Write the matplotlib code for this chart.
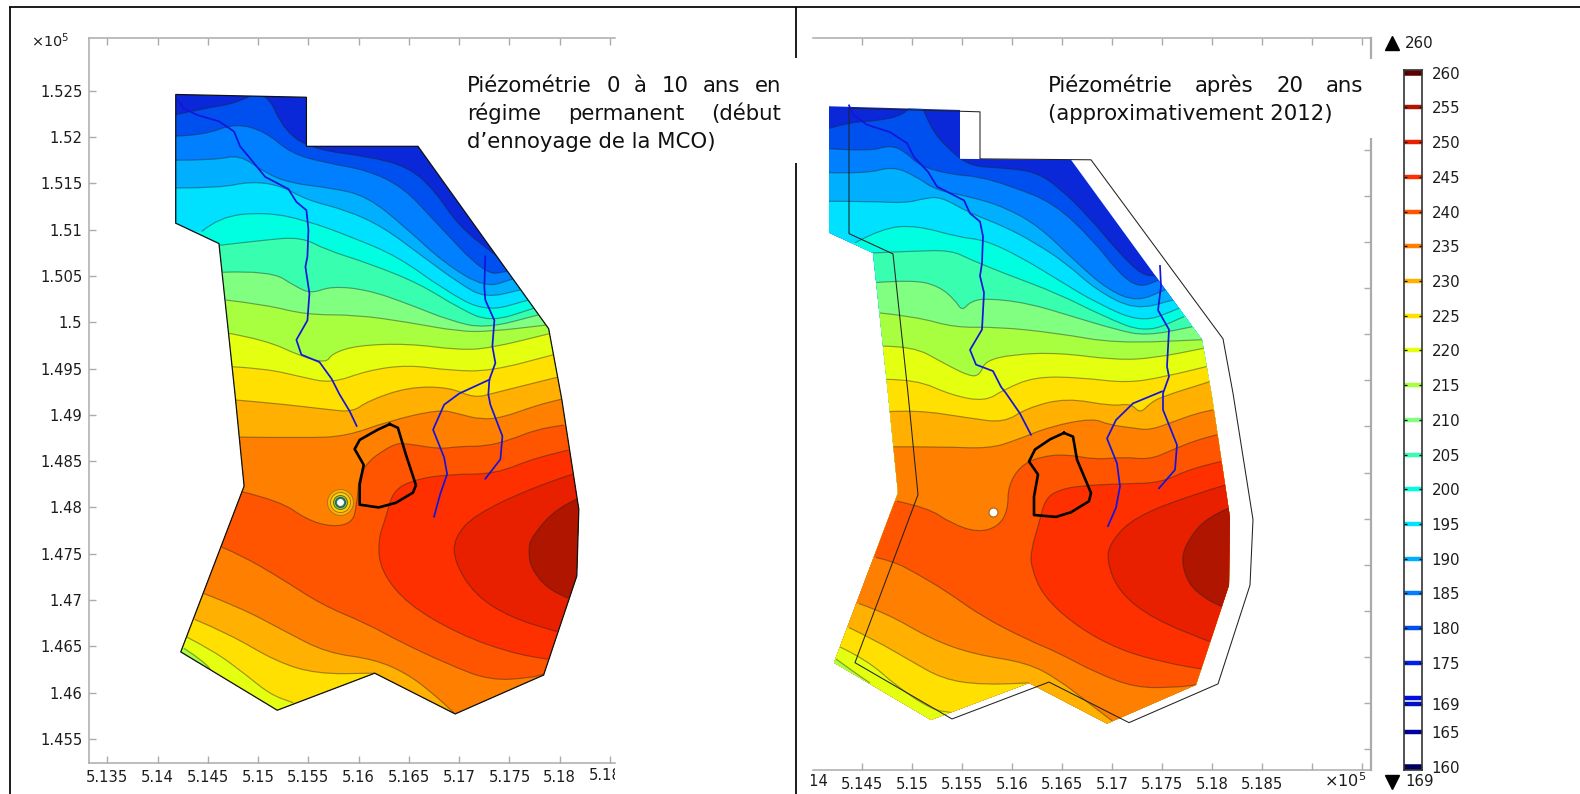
import matplotlib
matplotlib.use("Agg")
import matplotlib.pyplot as plt
from matplotlib.patches import Polygon, Rectangle, PathPatch
from matplotlib.path import Path
from matplotlib.transforms import Bbox

W, H = 1580, 794
plt.rcParams['font.family'] = ['DejaVu Sans']

# ---- colour scale -------------------------------------------------
levels = [160, 165, 169, 170, 175, 180, 185, 190, 195, 200, 205, 210, 215,
          220, 225, 230, 235, 240, 245, 250, 255, 260]
level_colors = ['#000060', '#0000a0', '#0010c8', '#0010d8', '#0020f0', '#0050f0', '#0080ff',
                '#00b0ff', '#00e0ff', '#00ffe0', '#38ffb0', '#80ff80', '#a8ff40',
                '#e4ff10', '#ffe000', '#ffb000', '#ff8000', '#ff5500', '#ff3000',
                '#e82000', '#b01500', '#600000']
cbar_labels = [160, 165, 169, 175, 180, 185, 190, 195, 200, 205, 210, 215, 220,
               225, 230, 235, 240, 245, 250, 255, 260]
base_color = '#0a28d8'

# ---- left panel: domain --------------------------------------------
dom1_x = [5.1418, 5.1548, 5.1548, 5.1659, 5.1789, 5.1802, 5.1819, 5.1817, 5.1784, 5.1696,
          5.1616, 5.1519, 5.1423, 5.1486, 5.1477, 5.1461, 5.1418]
dom1_y = [1.5246, 1.5243, 1.5190, 1.5190, 1.4993, 1.4917, 1.4798, 1.4726, 1.4619, 1.4577,
          1.4621, 1.4581, 1.4644, 1.4823, 1.4922, 1.5085, 1.5107]

# left panel: isolines, north side
a1x = [5.1418, 5.1446, 5.1477, 5.1507, 5.1527, 5.1558, 5.1609, 5.1649, 5.1675, 5.1700, 5.1738]
a1y = [1.5224, 1.5231, 1.5236, 1.5252, 1.5204, 1.5186, 1.5179, 1.5168, 1.5143, 1.5103, 1.5071]
b1x = [5.1418, 5.1446, 5.1477, 5.1507, 5.1533, 5.1568, 5.1609, 5.1644, 5.1675, 5.1726, 5.1748]
b1y = [1.5201, 1.5202, 1.5215, 1.5206, 1.5182, 1.5172, 1.5164, 1.5146, 1.5110, 1.5051, 1.5055]
c1x = [5.1418, 5.1456, 5.1482, 5.1507, 5.1533, 5.1573, 5.1609, 5.1649, 5.1685, 5.1726, 5.1754]
c1y = [1.5175, 1.5175, 1.5181, 1.5161, 1.5150, 1.5145, 1.5136, 1.5100, 1.5064, 1.5037, 1.5047]
d1x = [5.1418, 5.1461, 5.1492, 5.1522, 5.1548, 5.1588, 5.1624, 5.1660, 5.1700, 5.1726, 5.1761]
d1y = [1.5145, 1.5145, 1.5152, 1.5148, 1.5132, 1.5121, 1.5103, 1.5074, 1.5042, 1.5026, 1.5035]
e1x = [5.1444, 5.1461, 5.1507, 5.1548, 5.1593, 5.1639, 5.1685, 5.1726, 5.1769]
e1y = [1.5098, 1.5114, 1.5119, 1.5110, 1.5092, 1.5071, 1.5035, 1.5011, 1.5024]
f1x = [5.1461, 5.1507, 5.1543, 5.1568, 5.1609, 5.1660, 5.1700, 5.1731, 5.1774]
f1y = [1.5083, 1.5089, 1.5092, 1.5078, 1.5064, 1.5042, 1.5015, 1.5000, 1.5015]
g1x = [5.1465, 5.1512, 5.1538, 5.1553, 5.1573, 5.1609, 5.1649, 5.1690, 5.1726, 5.1779]
g1y = [1.5054, 1.5056, 1.5038, 1.5031, 1.5039, 1.5035, 1.5020, 1.5002, 1.4993, 1.5008]
h1x = [5.1468, 5.1507, 5.1548, 5.1598, 5.1649, 5.1700, 5.1731, 5.1787]
h1y = [1.5024, 1.5019, 1.5008, 1.5008, 1.5000, 1.4990, 1.4990, 1.4997]
i1x = [5.1471, 5.1507, 5.1543, 5.1568, 5.1573, 5.1598, 5.1649, 5.1700, 5.1731, 5.1791]
i1y = [1.4988, 1.4981, 1.4963, 1.4956, 1.4966, 1.4975, 1.4977, 1.4970, 1.4972, 1.4988]
j1x = [5.1474, 5.1507, 5.1543, 5.1573, 5.1609, 5.1649, 5.1690, 5.1731, 5.1794]
j1y = [1.4952, 1.4950, 1.4941, 1.4934, 1.4948, 1.4954, 1.4948, 1.4947, 1.4965]
k1x = [5.1478, 5.1512, 5.1568, 5.1594, 5.1609, 5.1649, 5.1690, 5.1715, 5.1736, 5.1799]
k1y = [1.4916, 1.4913, 1.4906, 1.4903, 1.4915, 1.4930, 1.4930, 1.4918, 1.4924, 1.4941]
l1x = [5.1481, 5.1548, 5.1588, 5.1629, 5.1680, 5.1700, 5.1721, 5.1743, 5.1776, 5.1802]
l1y = [1.4876, 1.4875, 1.4877, 1.4893, 1.4906, 1.4901, 1.4895, 1.4897, 1.4910, 1.4917]
m1x = [5.1484, 5.1522, 5.1548, 5.1573, 5.1593, 5.1598, 5.1601, 5.1634, 5.1649, 5.1680, 5.1700,
       5.1726, 5.1751, 5.1776, 5.1804]
m1y = [1.4817, 1.4807, 1.4787, 1.4779, 1.4783, 1.4800, 1.4843, 1.4869, 1.4869, 1.4863, 1.4866,
       1.4866, 1.4873, 1.4884, 1.4889]
# left panel: lobes against the east edge
n1x = [5.1809, 5.1776, 5.1736, 5.1690, 5.1655, 5.1634, 5.1627, 5.1619, 5.1622, 5.1649, 5.1700,
       5.1751, 5.1788]
n1y = [1.4862, 1.4854, 1.4836, 1.4836, 1.4830, 1.4818, 1.4789, 1.4764, 1.4731, 1.4695, 1.4663,
       1.4643, 1.4636]
o1x = [5.1813, 5.1776, 5.1715, 5.1695, 5.1695, 5.1715, 5.1751, 5.1797]
o1y = [1.4836, 1.4823, 1.4792, 1.4767, 1.4742, 1.4706, 1.4681, 1.4666]
p1x = [5.1819, 5.1797, 5.1771, 5.1769, 5.1771, 5.1787, 5.1808]
p1y = [1.4810, 1.4800, 1.4767, 1.4753, 1.4735, 1.4713, 1.4702]
# left panel: isolines, south-west side
q1x = [5.1464, 5.1482, 5.1522, 5.1563, 5.1609, 5.1639, 5.1690, 5.1731, 5.1771, 5.1784]
q1y = [1.4757, 1.4749, 1.4724, 1.4695, 1.4674, 1.4656, 1.4630, 1.4613, 1.4616, 1.4620]
r1x = [5.1446, 5.1482, 5.1527, 5.1568, 5.1616, 5.1649, 5.1675, 5.1695]
r1y = [1.4707, 1.4692, 1.4666, 1.4643, 1.4636, 1.4620, 1.4598, 1.4578]
s1x = [5.1437, 5.1472, 5.1517, 5.1558, 5.1616]
s1y = [1.4679, 1.4663, 1.4634, 1.4620, 1.4621]
t1x = [5.1429, 5.1456, 5.1487, 5.1512, 5.1535]
t1y = [1.4660, 1.4645, 1.4620, 1.4598, 1.4589]
u1x = [5.1426, 5.1446, 5.1456]
u1y = [1.4648, 1.4634, 1.4620]

riv1a_x = [5.1420, 5.1426, 5.1439, 5.1461, 5.1476, 5.1482, 5.1492, 5.1507, 5.1530, 5.1538, 5.1548,
           5.1550, 5.1549, 5.1547, 5.1551, 5.1549, 5.1538, 5.1543, 5.1561, 5.1573, 5.1581, 5.1591, 5.1598]
riv1a_y = [1.5240, 1.5231, 1.5224, 1.5217, 1.5206, 1.5190, 1.5177, 1.5157, 1.5144, 1.5130, 1.5121,
           1.5100, 1.5071, 1.5060, 1.5031, 1.5002, 1.4981, 1.4965, 1.4957, 1.4939, 1.4922, 1.4904, 1.4888]
riv1b_x = [5.1726, 5.1725, 5.1726, 5.1735, 5.1733, 5.1736, 5.1730, 5.1729, 5.1731, 5.1743, 5.1741, 5.1726]
riv1b_y = [1.5071, 1.5038, 1.5024, 1.5002, 1.4974, 1.4956, 1.4938, 1.4922, 1.4911, 1.4877, 1.4852, 1.4831]
riv1c_x = [5.1730, 5.1700, 5.1685, 5.1674, 5.1685, 5.1688, 5.1681, 5.1675]
riv1c_y = [1.4938, 1.4923, 1.4911, 1.4884, 1.4854, 1.4836, 1.4814, 1.4790]
mco1_x = [5.1631, 5.1619, 5.1601, 5.1596, 5.1605, 5.1601, 5.1601, 5.1620, 5.1637, 5.1654, 5.1657, 5.1647, 5.1639, 5.1631]
mco1_y = [1.4890, 1.4884, 1.4873, 1.4863, 1.4846, 1.4825, 1.4803, 1.4800, 1.4805, 1.4816, 1.4824, 1.4857, 1.4886, 1.4890]
well1 = (5.1581, 1.4806)

# ---- right panel ----------------------------------------------------
dom2_x = [5.1417, 5.1548, 5.1548, 5.1659, 5.1790, 5.1800, 5.1818, 5.1817, 5.1784, 5.1695,
          5.1617, 5.1519, 5.1422, 5.1486, 5.1476, 5.1461, 5.1417]
dom2_y = [1.5247, 1.5243, 1.5190, 1.5189, 1.4994, 1.4932, 1.4801, 1.4728, 1.4620, 1.4578,
          1.4622, 1.4582, 1.4644, 1.4828, 1.4936, 1.5088, 1.5110]
out2_x = [5.1437, 5.1568, 5.1568, 5.1679, 5.1811, 5.1821, 5.1841, 5.1838, 5.1806, 5.1717,
          5.1637, 5.1540, 5.1443, 5.1506, 5.1496, 5.1481, 5.1437, 5.1437]
out2_y = [1.5245, 1.5241, 1.5190, 1.5189, 1.4995, 1.4936, 1.4799, 1.4728, 1.4621, 1.4579,
          1.4623, 1.4583, 1.4644, 1.4826, 1.4936, 1.5087, 1.5109, 1.5245]

a2x = [5.1417, 5.1439, 5.1466, 5.1493, 5.1501, 5.1508, 5.1520, 5.1537, 5.1558, 5.1592, 5.1623,
       5.1646, 5.1677, 5.1707, 5.1730, 5.1744]
a2y = [1.5223, 1.5230, 1.5231, 1.5238, 1.5252, 1.5252, 1.5221, 1.5200, 1.5182, 1.5180, 1.5176,
       1.5160, 1.5127, 1.5088, 1.5064, 1.5063]
b2x = [5.1417, 5.1458, 5.1478, 5.1493, 5.1508, 5.1539, 5.1566, 5.1600, 5.1642, 5.1681, 5.1707, 5.1727, 5.1748]
b2y = [1.5201, 1.5198, 1.5205, 1.5198, 1.5182, 1.5173, 1.5171, 1.5160, 1.5142, 1.5102, 1.5066, 1.5050, 1.5059]
c2x = [5.1417, 5.1455, 5.1481, 5.1504, 5.1524, 5.1558, 5.1592, 5.1627, 5.1665, 5.1696, 5.1725, 5.1753]
c2y = [1.5175, 1.5174, 1.5182, 1.5171, 1.5156, 1.5149, 1.5138, 1.5117, 1.5077, 1.5048, 1.5035, 1.5048]
d2x = [5.1417, 5.1458, 5.1493, 5.1512, 5.1529, 5.1558, 5.1592, 5.1623, 5.1654, 5.1684, 5.1723, 5.1761]
d2y = [1.5144, 1.5144, 1.5142, 1.5147, 1.5149, 1.5131, 1.5117, 1.5099, 1.5077, 1.5048, 1.5026, 1.5037]
e2x = [5.1443, 5.1470, 5.1504, 5.1547, 5.1573, 5.1608, 5.1646, 5.1684, 5.1730, 5.1767]
e2y = [1.5099, 1.5115, 1.5118, 1.5105, 1.5102, 1.5084, 1.5059, 1.5034, 1.5012, 1.5028]
f2x = [5.1460, 5.1501, 5.1539, 5.1558, 5.1592, 5.1646, 5.1692, 5.1734, 5.1772]
f2y = [1.5088, 1.5090, 1.5091, 1.5081, 1.5066, 1.5044, 1.5019, 1.5001, 1.5019]
g2x = [5.1464, 5.1501, 5.1527, 5.1543, 5.1550, 5.1558, 5.1573, 5.1615, 5.1661, 5.1704, 5.1734, 5.1780]
g2y = [1.5056, 1.5059, 1.5052, 1.5037, 1.5025, 1.5035, 1.5039, 1.5034, 1.5019, 1.5005, 1.4998, 1.5008]
h2x = [5.1468, 5.1504, 5.1543, 5.1585, 5.1646, 5.1704, 5.1790]
h2y = [1.5023, 1.5019, 1.5007, 1.5008, 1.5001, 1.4990, 1.4994]
i2x = [5.1471, 5.1501, 5.1531, 5.1558, 5.1568, 5.1573, 5.1600, 5.1646, 5.1704, 5.1742, 5.1793]
i2y = [1.4987, 1.4987, 1.4969, 1.4954, 1.4956, 1.4971, 1.4978, 1.4980, 1.4972, 1.4974, 1.4985]
j2x = [5.1474, 5.1504, 5.1539, 5.1573, 5.1592, 5.1623, 5.1669, 5.1715, 5.1753, 5.1795]
j2y = [1.4951, 1.4951, 1.4934, 1.4927, 1.4940, 1.4954, 1.4953, 1.4947, 1.4954, 1.4965]
k2x = [5.1477, 5.1504, 5.1558, 5.1592, 5.1615, 5.1654, 5.1700, 5.1719, 5.1728, 5.1738, 5.1749, 5.1799]
k2y = [1.4916, 1.4918, 1.4909, 1.4904, 1.4920, 1.4931, 1.4922, 1.4925, 1.4914, 1.4925, 1.4932, 1.4949]
l2x = [5.1481, 5.1531, 5.1577, 5.1604, 5.1638, 5.1681, 5.1696, 5.1723, 5.1738, 5.1761, 5.1784, 5.1801]
l2y = [1.4878, 1.4878, 1.4876, 1.4885, 1.4900, 1.4909, 1.4902, 1.4898, 1.4896, 1.4905, 1.4914, 1.4918]
m2x = [5.1485, 5.1516, 5.1539, 5.1566, 5.1587, 5.1596, 5.1596, 5.1608, 5.1627, 5.1654, 5.1684,
       5.1711, 5.1738, 5.1761, 5.1784, 5.1805]
m2y = [1.4819, 1.4812, 1.4795, 1.4785, 1.4792, 1.4810, 1.4835, 1.4857, 1.4867, 1.4870, 1.4864,
       1.4867, 1.4864, 1.4875, 1.4885, 1.4891]
n2x = [5.1809, 5.1780, 5.1749, 5.1715, 5.1669, 5.1646, 5.1633, 5.1627, 5.1619, 5.1619, 5.1631,
       5.1665, 5.1707, 5.1753, 5.1790]
n2y = [1.4862, 1.4855, 1.4839, 1.4838, 1.4836, 1.4831, 1.4821, 1.4795, 1.4766, 1.4748, 1.4716,
       1.4683, 1.4658, 1.4644, 1.4637]
o2x = [5.1815, 5.1780, 5.1723, 5.1700, 5.1694, 5.1707, 5.1742, 5.1797]
o2y = [1.4837, 1.4826, 1.4802, 1.4777, 1.4756, 1.4720, 1.4691, 1.4667]
p2x = [5.1818, 5.1795, 5.1776, 5.1769, 5.1776, 5.1792, 5.1811]
p2y = [1.4812, 1.4802, 1.4777, 1.4756, 1.4730, 1.4714, 1.4704]
q2x = [5.1464, 5.1481, 5.1504, 5.1535, 5.1570, 5.1615, 5.1646, 5.1684, 5.1723, 5.1761, 5.1785]
q2y = [1.4758, 1.4754, 1.4741, 1.4721, 1.4694, 1.4669, 1.4655, 1.4633, 1.4617, 1.4617, 1.4620]
r2x = [5.1447, 5.1474, 5.1520, 5.1562, 5.1615, 5.1646, 5.1677, 5.1700]
r2y = [1.4708, 1.4698, 1.4669, 1.4653, 1.4644, 1.4626, 1.4600, 1.4581]
s2x = [5.1437, 5.1462, 5.1497, 5.1531, 5.1570, 5.1617]
s2y = [1.4682, 1.4669, 1.4647, 1.4626, 1.4620, 1.4622]
t2x = [5.1428, 5.1455, 5.1485, 5.1520, 5.1539]
t2y = [1.4661, 1.4647, 1.4618, 1.4593, 1.4590]
u2x = [5.1424, 5.1443, 5.1458]
u2y = [1.4648, 1.4633, 1.4622]

riv2a_x = [5.1437, 5.1441, 5.1455, 5.1478, 5.1495, 5.1502, 5.1516, 5.1525, 5.1552, 5.1558, 5.1568, 5.1571,
           5.1570, 5.1568, 5.1572, 5.1570, 5.1558, 5.1564, 5.1581, 5.1589, 5.1594, 5.1608, 5.1619]
riv2a_y = [1.5248, 1.5238, 1.5227, 1.5219, 1.5207, 1.5192, 1.5176, 1.5160, 1.5145, 1.5131, 1.5122, 1.5106,
           1.5077, 1.5063, 1.5045, 1.5005, 1.4983, 1.4967, 1.4960, 1.4943, 1.4936, 1.4914, 1.4891]
riv2b_x = [5.1748, 5.1749, 5.1746, 5.1757, 5.1755, 5.1757, 5.1751, 5.1751, 5.1765, 5.1763, 5.1747]
riv2b_y = [1.5074, 1.5052, 1.5026, 1.5005, 1.4965, 1.4954, 1.4936, 1.4918, 1.4880, 1.4853, 1.4833]
riv2c_x = [5.1750, 5.1721, 5.1704, 5.1695, 5.1705, 5.1708, 5.1704, 5.1696]
riv2c_y = [1.4938, 1.4925, 1.4907, 1.4887, 1.4860, 1.4835, 1.4812, 1.4792]
mco2_x = [5.1652, 5.1638, 5.1623, 5.1617, 5.1626, 5.1622, 5.1622, 5.1644, 5.1659, 5.1677, 5.1679, 5.1665, 5.1661, 5.1652]
mco2_y = [1.4893, 1.4886, 1.4875, 1.4862, 1.4848, 1.4824, 1.4804, 1.4802, 1.4807, 1.4819, 1.4828, 1.4864, 1.4889, 1.4893]
well2 = (5.1581, 1.4807)

north_levels = [180, 185, 190, 195, 200, 205, 210, 215, 220, 225, 230, 235, 240]
lobe_levels = [245, 250, 255]
south_levels = [235, 230, 225, 220, 215]

north1 = [(a1x, a1y), (b1x, b1y), (c1x, c1y), (d1x, d1y), (e1x, e1y), (f1x, f1y), (g1x, g1y),
          (h1x, h1y), (i1x, i1y), (j1x, j1y), (k1x, k1y), (l1x, l1y), (m1x, m1y)]
lobes1 = [(n1x, n1y), (o1x, o1y), (p1x, p1y)]
south1 = [(q1x, q1y), (r1x, r1y), (s1x, s1y), (t1x, t1y), (u1x, u1y)]
north2 = [(a2x, a2y), (b2x, b2y), (c2x, c2y), (d2x, d2y), (e2x, e2y), (f2x, f2y), (g2x, g2y),
          (h2x, h2y), (i2x, i2y), (j2x, j2y), (k2x, k2y), (l2x, l2y), (m2x, m2y)]
lobes2 = [(n2x, n2y), (o2x, o2y), (p2x, p2y)]
south2 = [(q2x, q2y), (r2x, r2y), (s2x, s2y), (t2x, t2y), (u2x, u2y)]

xt1 = [5.135, 5.14, 5.145, 5.15, 5.155, 5.16, 5.165, 5.17, 5.175, 5.18, 5.185]
xl1 = ['5.135', '5.14', '5.145', '5.15', '5.155', '5.16', '5.165', '5.17', '5.175', '5.18', '']
xt2 = [5.145, 5.15, 5.155, 5.16, 5.165, 5.17, 5.175, 5.18, 5.185, 5.19, 5.195]
xl2 = ['5.145', '5.15', '5.155', '5.16', '5.165', '5.17', '5.175', '5.18', '5.185', '', '']
yt = [1.455, 1.46, 1.465, 1.47, 1.475, 1.48, 1.485, 1.49, 1.495, 1.5, 1.505, 1.51, 1.515, 1.52, 1.525]
yl = ['1.455', '1.46', '1.465', '1.47', '1.475', '1.48', '1.485', '1.49', '1.495', '1.5',
      '1.505', '1.51', '1.515', '1.52', '1.525']

color_of = dict(zip(levels, level_colors))
FAR = 0.2
GRAY = '#ababab'
TXT = '#1c1c1c'


def px_axes(fig, left, top, right, bottom, **kw):
    return fig.add_axes([left / W, 1 - bottom / H, (right - left) / W, (bottom - top) / H], **kw)


def curve(xs, ys):
    """Vertices and codes of a rounded line through the read points (quadratic Bezier corners)."""
    verts = [(xs[0], ys[0])]
    codes = [Path.MOVETO]
    for i in range(1, len(xs) - 1):
        verts += [(xs[i], ys[i]), ((xs[i] + xs[i + 1]) / 2, (ys[i] + ys[i + 1]) / 2)]
        codes += [Path.CURVE3, Path.CURVE3]
    verts.append((xs[-1], ys[-1]))
    codes.append(Path.LINETO)
    return verts, codes


def paint(ax, clip, xs, ys, color, mode):
    verts, codes = curve(xs, ys)
    if mode == 'north':
        extra = [(xs[-1] + FAR, ys[-1]), (xs[-1] + FAR, ys[-1] - FAR), (xs[0] - FAR, ys[-1] - FAR), (xs[0] - FAR, ys[0])]
    elif mode == 'lobe':
        extra = [(xs[-1] + FAR, ys[-1]), (xs[0] + FAR, ys[0])]
    else:
        extra = [(xs[-1], ys[-1] - FAR), (xs[0] - FAR, ys[-1] - FAR), (xs[0] - FAR, ys[0])]
    verts = verts + extra + [(xs[0], ys[0])]
    codes = codes + [Path.LINETO] * len(extra) + [Path.CLOSEPOLY]
    a = PathPatch(Path(verts, codes), fc=color, ec='none', lw=0, zorder=2)
    ax.add_patch(a)
    a.set_clip_path(clip)


def panel(ax, domx, domy, north, lobes, south):
    dom = Polygon(list(zip(domx, domy)), closed=True, fc=base_color, ec='none', zorder=1)
    ax.add_patch(dom)
    for (xs, ys), lev in zip(north, north_levels):
        paint(ax, dom, xs, ys, color_of[lev], 'north')
    for (xs, ys), lev in zip(lobes, lobe_levels):
        paint(ax, dom, xs, ys, color_of[lev], 'lobe')
    for (xs, ys), lev in zip(south, south_levels):
        paint(ax, dom, xs, ys, color_of[lev], 'south')
    for xs, ys in north + lobes + south:
        verts, codes = curve(xs, ys)
        ln = PathPatch(Path(verts, codes), fc='none', ec='#202020', alpha=0.42, lw=0.85, zorder=3)
        ax.add_patch(ln)
        ln.set_clip_path(dom)


def style(ax, xt, xl, yt, yl, side):
    ax.set_xticks(xt)
    ax.set_xticklabels(xl)
    ax.set_yticks(yt)
    ax.set_yticklabels(yl)
    ax.patch.set_alpha(0)
    ax.tick_params(axis='both', which='major', direction='in', length=5, width=1, color=GRAY,
                   labelsize=10.6, labelcolor=TXT, top=True, bottom=True)
    ax.tick_params(axis='x', pad=5)
    ax.tick_params(axis='y', left=side == 'left', right=side == 'right',
                   labelleft=side == 'left', labelright=False, pad=5)
    for s in ax.spines.values():
        s.set_color(GRAY)
        s.set_linewidth(1.1)
    ax.spines['left'].set_visible(side == 'left')
    ax.spines['right'].set_visible(side == 'right')
    if side == 'right':
        ax.spines['right'].set_linewidth(1.6)


fig = plt.figure(figsize=(W / 100, H / 100), dpi=100, facecolor='white')

# left map
ax1 = px_axes(fig, 89.3, 38, 615, 763)
ax1.set_xlim(5.1332, 5.1855)
ax1.set_ylim(1.4524, 1.5307)
panel(ax1, dom1_x, dom1_y, north1, lobes1, south1)
ax1.add_patch(Polygon(list(zip(dom1_x, dom1_y)), closed=True, fc='none', ec='#111111', lw=0.9, zorder=4))
for (xs, ys) in [(riv1a_x, riv1a_y), (riv1b_x, riv1b_y), (riv1c_x, riv1c_y)]:
    ax1.plot(xs, ys, color='#1414dc', lw=1.25, zorder=5)
ax1.plot(mco1_x, mco1_y, color='black', lw=1.9, zorder=6)
for size, col, edge in [(26, '#ffb000', '#a07020'), (20, '#ffd000', '#907020'), (14, '#90c040', '#606020'),
                        (10, '#308070', '#205050'), (6, 'white', 'white')]:
    ax1.plot(*well1, marker='o', ms=size * 0.72, mfc=col, mec=edge, mew=0.6, zorder=5)
style(ax1, xt1, xl1, yt, yl, 'left')

# right map
ax2 = px_axes(fig, 813, 38, 1370.5, 769.7)
ax2.set_xlim(5.1401, 5.19585)
ax2.set_ylim(1.4528, 1.5321)
panel(ax2, dom2_x, dom2_y, north2, lobes2, south2)
ax2.plot(out2_x, out2_y, color='#222222', lw=0.75, zorder=5)
for (xs, ys) in [(riv2a_x, riv2a_y), (riv2b_x, riv2b_y), (riv2c_x, riv2c_y)]:
    ax2.plot(xs, ys, color='#1414dc', lw=1.25, zorder=6)
ax2.plot(mco2_x, mco2_y, color='black', lw=1.9, zorder=6)
ax2.plot(*well2, marker='o', ms=6.5, mfc='white', mec='#b06a20', mew=0.9, zorder=6)
style(ax2, xt2, xl2, yt, yl, 'right')

# colour bar
cax = px_axes(fig, 1403.5, 69.5, 1422.5, 769.7)
cax.set_ylim(159.6, 260.46)
cax.set_xlim(0, 1)
for lev, col in zip(levels, level_colors):
    lw = 4.0 if lev in (160, 260) else 3.2
    cax.axhline(lev, color=col, lw=lw, zorder=1)
cax.set_xticks([])
cax.set_yticks(cbar_labels)
cax.set_yticklabels([str(v) for v in cbar_labels])
cax.tick_params(axis='y', direction='in', length=2.2, width=0.9, color='#111111', left=True, right=True,
                labelleft=False, labelright=True, labelsize=10.8, labelcolor=TXT, pad=6.5)
for s in cax.spines.values():
    s.set_color('#333333')
    s.set_linewidth(1.2)

# overlay: frame, text, extras
ov = fig.add_axes([0, 0, 1, 1], zorder=20)
ov.set_xlim(0, W)
ov.set_ylim(H, 0)
ov.axis('off')
ov.patch.set_alpha(0)
ov.add_patch(Rectangle((1364, 58.5), 12, 79.5, fc='white', ec='none', zorder=1))
for xs, ys in [((9, W), (7, 7)), ((9.7, 9.7), (7, H)), ((796, 796), (7, 58)), ((796, 796), (163, H))]:
    ov.plot(xs, ys, color='black', lw=1.25, solid_capstyle='butt', zorder=2)

fig.canvas.draw()
rend = fig.canvas.get_renderer()
TF = 15.3
TEXT_DROP = 7


def justified(words, x0, x1, yc):
    widths = []
    for w in words:
        t = ov.text(0, 0, w, fontsize=TF)
        widths.append(t.get_window_extent(rend).width)
        t.remove()
    gap = (x1 - x0 - sum(widths)) / (len(words) - 1)
    x = x0
    for w, wd in zip(words, widths):
        ov.text(x, yc + TEXT_DROP, w, fontsize=TF, color='#111111', va='baseline', ha='left', zorder=3)
        x += wd + gap


justified(['Piézométrie', '0', 'à', '10', 'ans', 'en'], 467, 781, 85)
justified(['régime', 'permanent', '(début'], 467, 781, 113)
t3 = ov.text(467, 141 + TEXT_DROP, 'd’ennoyage de la MCO)', fontsize=TF, color='#111111', va='baseline', zorder=3)
t3.set_clip_box(Bbox([[400, H - 152], [800, H - 120]]))
t3.set_clip_on(True)
justified(['Piézométrie', 'après', '20', 'ans'], 1048, 1363, 85)
ov.text(1048, 113 + TEXT_DROP, '(approximativement 2012)', fontsize=TF, color='#111111', va='baseline', zorder=3)

# labels cut by the page edges
t = ov.text(609.7, 776, '5.185', fontsize=10.6, color=TXT, ha='center', va='center', zorder=3)
t.set_clip_box(Bbox([[400, 0], [615, 60]]))
t.set_clip_on(True)
t = ov.text(812.4, 782, '5.14', fontsize=10.6, color=TXT, ha='center', va='center', zorder=3)
t.set_clip_box(Bbox([[811, 0], [900, 60]]))
t.set_clip_on(True)

ov.text(50, 41, r'$\times 10^5$', fontsize=10.4, color=TXT, ha='center', va='center', zorder=3)
ov.text(1345, 781, r'$\times 10^5$', fontsize=11.6, color=TXT, ha='center', va='center', zorder=3)
ov.plot([1391.5], [43], marker='^', ms=9.5, color='black', zorder=3)
ov.text(1405, 43.5, '260', fontsize=10.8, color=TXT, ha='left', va='center', zorder=3)
ov.plot([1391.5], [782], marker='v', ms=9.5, color='black', zorder=3)
ov.text(1405, 782, '169', fontsize=10.8, color=TXT, ha='left', va='center', zorder=3)

fig.savefig('out.png', dpi=100, facecolor='white')
